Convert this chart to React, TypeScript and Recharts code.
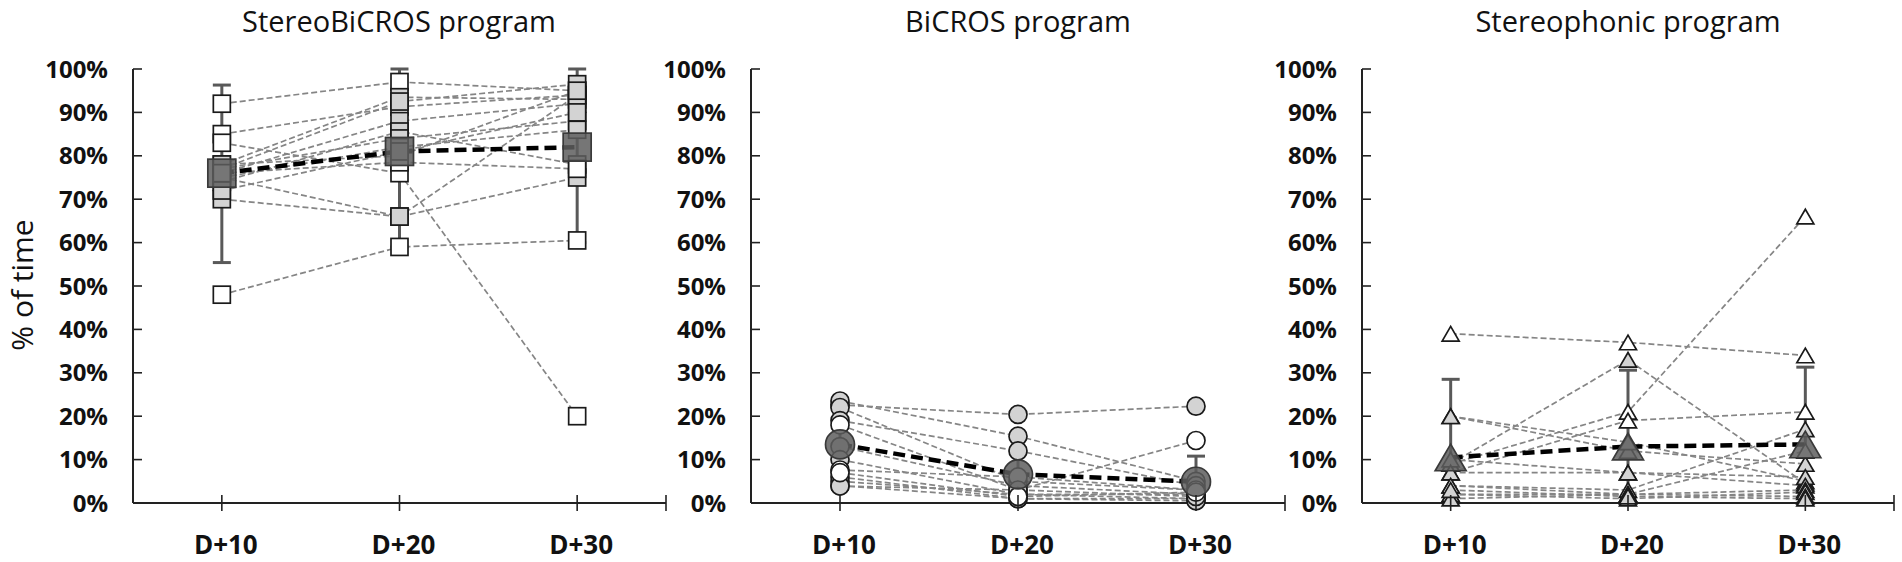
import { ErrorBar, Line, LineChart, XAxis, YAxis } from 'recharts';

const days = ['D+10', 'D+20', 'D+30'];
const yTicks = [0, 10, 20, 30, 40, 50, 60, 70, 80, 90, 100];

// StereoBiCROS program: one row per patient, values at D+10 / D+20 / D+30
const stereoBiCrosPatients = [
  [92, 97, 95],
  [85, 91.3, 94],
  [83, 76, 20],
  [48, 59, 60.5],
  [70, 66, 75],
  [75, 66, 94],
  [78, 93.5, 93],
  [77, 92.5, 96.5],
  [76, 88, 92],
  [74, 85.6, 78],
  [77, 84, 88],
  [75, 82, 86],
  [78, 80, 95],
  [76, 78.5, 77],
  [72, 81, 90],
];
const stereoBiCrosFills = ['w', 'w', 'w', 'w', 'g', 'g', 'g', 'g', 'g', 'g', 'g', 'g', 'g', 'w', 'g'];
const stereoBiCrosMean = [76, 81, 82];
const stereoBiCrosErrLow = [20.6, 22, 22];
const stereoBiCrosErrHigh = [20.3, 19, 18];

// BiCROS program
const biCrosPatients = [
  [22.6, 20.4, 22.3],
  [23.5, 15.4, 5],
  [22, 5, 3],
  [19, 12, 4],
  [18, 3, 14.4],
  [13, 4, 2],
  [10, 2, 1],
  [7.6, 6, 3],
  [6, 1, 1],
  [5, 2, 2],
  [4, 1, 0.5],
  [3.9, 3, 1.5],
  [7, 1.5, 2.5],
];
const biCrosFills = ['g', 'g', 'g', 'g', 'w', 'g', 'g', 'w', 'w', 'g', 'g', 'g', 'w'];
const biCrosMean = [13.5, 6.6, 4.9];
const biCrosErrLow = [9, 6, 4.9];
const biCrosErrHigh = [9, 6, 5.9];

// Stereophonic program
const stereoPatients = [
  [39, 37, 34],
  [9, 21, 66],
  [20, 12, 9],
  [20, 14, 5],
  [9, 33, 4.5],
  [7, 19, 21],
  [4, 3, 17],
  [2, 2, 12],
  [10, 7, 6],
  [7, 7, 4],
  [4, 2, 3],
  [2, 1, 2.5],
  [1, 2, 1.5],
  [3, 1.5, 1],
];
const stereoFills = ['w', 'w', 'g', 'g', 'g', 'w', 'g', 'w', 'g', 'g', 'w', 'w', 'g', 'g'];
const stereoMean = [10.5, 13, 13.5];
const stereoErrLow = [10.5, 13, 13.5];
const stereoErrHigh = [18, 17.6, 17.8];

const FONT = '"Open Sans", sans-serif';
const INK = '#111';
const FILL = { w: '#ffffff', g: '#d3d3d3' };

type Shape = 'square' | 'circle' | 'triangle';

function marker(shape: Shape, cx: number, cy: number, size: number, fill: string, stroke: string, key: string, opacity = 1) {
  if (cx == null || cy == null) return <g key={key} />;
  const common = { fill, stroke, strokeWidth: 1.7, fillOpacity: opacity };
  if (shape === 'square') {
    return <rect key={key} x={cx - size / 2} y={cy - size / 2} width={size} height={size} {...common} />;
  }
  if (shape === 'circle') {
    return <circle key={key} cx={cx} cy={cy} r={size / 2} {...common} />;
  }
  const h = size * 0.86;
  const pts = `${cx},${cy - h / 2} ${cx + size / 2},${cy + h / 2} ${cx - size / 2},${cy + h / 2}`;
  return <polygon key={key} points={pts} strokeLinejoin="miter" {...common} />;
}

function XTick({ x, y, payload }: any) {
  const idx = Math.round(payload.value - 0.5);
  const label = payload.value < 3 ? days[idx] : '';
  return (
    <g>
      <line x1={x} x2={x} y1={y - 8} y2={y + 8} stroke="#222" strokeWidth={1.6} />
      {label && (
        <text x={x + 4} y={y + 51} textAnchor="middle" fontFamily={FONT} fontWeight={700} fontSize={26} fill={INK}>
          {label}
        </text>
      )}
    </g>
  );
}

function YTick({ x, y, payload }: any) {
  return (
    <g>
      <line x1={x} x2={x + 9} y1={y} y2={y} stroke="#222" strokeWidth={1.6} />
      <text x={x - 25} y={y} dy="0.36em" textAnchor="end" fontFamily={FONT} fontWeight={700} fontSize={24} fill={INK}>
        {`${payload.value}%`}
      </text>
    </g>
  );
}

interface PanelProps {
  left: number;
  plotRight: number;
  shape: Shape;
  size: number;
  meanSize: number;
  patients: number[][];
  fills: string[];
  mean: number[];
  errLow: number[];
  errHigh: number[];
}

function Panel({ left, plotRight, shape, size, meanSize, patients, fills, mean, errLow, errHigh }: PanelProps) {
  const yAxisWidth = 133;
  const width = plotRight - left + 8;
  const meanData = days.map((d, i) => ({ x: i + 0.5, day: d, v: mean[i], err: [errLow[i], errHigh[i]] }));

  return (
    <div style={{ position: 'absolute', left, top: 0 }}>
      <LineChart width={width} height={562} margin={{ top: 69, right: 8, bottom: 0, left: 0 }}>
        <XAxis
          type="number"
          dataKey="x"
          domain={[0, 3]}
          ticks={[0.5, 1.5, 2.5, 3]}
          height={59}
          tickLine={false}
          tickSize={0}
          tickMargin={0}
          axisLine={{ stroke: '#222', strokeWidth: 2 }}
          tick={<XTick />}
          interval={0}
        />
        <YAxis
          type="number"
          domain={[0, 100]}
          ticks={yTicks}
          width={yAxisWidth}
          tickLine={false}
          tickSize={0}
          tickMargin={0}
          axisLine={{ stroke: '#222', strokeWidth: 2 }}
          tick={<YTick />}
          interval={0}
        />
        <Line data={meanData} dataKey="v" stroke="none" dot={false} isAnimationActive={false}>
          <ErrorBar dataKey="err" width={9} strokeWidth={3} stroke="#595959" direction="y" isAnimationActive={false} />
        </Line>
        {patients.map((row, p) => (
          <Line
            key={`p${p}`}
            data={days.map((d, i) => ({ x: i + 0.5, day: d, v: row[i] }))}
            dataKey="v"
            type="linear"
            stroke="#858585"
            strokeWidth={1.7}
            strokeDasharray="6 3"
            isAnimationActive={false}
            dot={(props: any) =>
              marker(shape, props.cx, props.cy, size, FILL[fills[p] as 'w' | 'g'], '#1a1a1a', `p${p}-${props.index}`)
            }
            activeDot={false}
          />
        ))}
        <Line
          data={meanData}
          dataKey="v"
          stroke="none"
          isAnimationActive={false}
          dot={(props: any) => marker(shape, props.cx, props.cy, meanSize, '#5e5e5e', '#3a3a3a', `m${props.index}`, 0.85)}
          activeDot={false}
        />
        <Line
          data={meanData}
          dataKey="v"
          type="linear"
          stroke="#000"
          strokeWidth={4.5}
          strokeDasharray="12 6"
          dot={false}
          activeDot={false}
          isAnimationActive={false}
        />
      </LineChart>
    </div>
  );
}

const titles = [
  { text: 'StereoBiCROS program', x: 399 },
  { text: 'BiCROS program', x: 1018 },
  { text: 'Stereophonic program', x: 1628 },
];

export default function App() {
  return (
    <div style={{ position: 'absolute', left: 0, top: 0, width: 1902, height: 562, background: '#fff', overflow: 'hidden' }}>
      <Panel
        left={0}
        plotRight={666}
        shape="square"
        size={17}
        meanSize={28}
        patients={stereoBiCrosPatients}
        fills={stereoBiCrosFills}
        mean={stereoBiCrosMean}
        errLow={stereoBiCrosErrLow}
        errHigh={stereoBiCrosErrHigh}
      />
      <Panel
        left={618}
        plotRight={1285}
        shape="circle"
        size={18}
        meanSize={29}
        patients={biCrosPatients}
        fills={biCrosFills}
        mean={biCrosMean}
        errLow={biCrosErrLow}
        errHigh={biCrosErrHigh}
      />
      <Panel
        left={1229}
        plotRight={1894}
        shape="triangle"
        size={17}
        meanSize={31}
        patients={stereoPatients}
        fills={stereoFills}
        mean={stereoMean}
        errLow={stereoErrLow}
        errHigh={stereoErrHigh}
      />
      <svg width={1902} height={562} style={{ position: 'absolute', left: 0, top: 0, pointerEvents: 'none' }}>
        {titles.map((t) => (
          <text key={t.text} x={t.x} y={32} textAnchor="middle" fontFamily={FONT} fontSize={29} fill={INK}>
            {t.text}
          </text>
        ))}
        <text transform="translate(33,285) rotate(-90)" textAnchor="middle" fontFamily={FONT} fontSize={30} fill={INK}>
          % of time
        </text>
      </svg>
    </div>
  );
}
